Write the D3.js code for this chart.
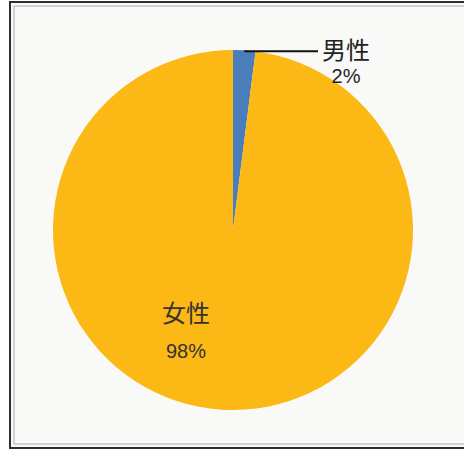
<!DOCTYPE html>
<html>
<head>
<meta charset="utf-8">
<script src="https://cdn.jsdelivr.net/npm/d3@7"></script>
<style>
  body { margin: 0; background: #ffffff; }
  svg { display: block; }
</style>
</head>
<body>
<div id="chart"></div>
<script>
let categories = ['男性', '女性']
let values = [2, 98]
let labels = ['2%', '98%']
let colors = ['#4a7ebb', '#fcb814']

let width = 464
let height = 452

let svg = d3
  .select('#chart')
  .append('svg')
  .attr('width', width)
  .attr('height', height)

// frame (double line)
svg
  .append('rect')
  .attr('x', 0)
  .attr('y', 0)
  .attr('width', width)
  .attr('height', height)
  .attr('fill', '#ffffff')

svg
  .append('rect')
  .attr('x', 10)
  .attr('y', 2)
  .attr('width', 470)
  .attr('height', 446)
  .attr('fill', '#f9f9f7')
  .attr('stroke', '#2b2f2f')
  .attr('stroke-width', 2)

svg
  .append('rect')
  .attr('x', 14)
  .attr('y', 6)
  .attr('width', 470)
  .attr('height', 438)
  .attr('fill', 'none')
  .attr('stroke', '#a9adab')
  .attr('stroke-width', 1)

let cx = 233
let cy = 230
let radius = 180

let pie = d3.pie().sort(null).value(d => d.value)
let arc = d3.arc().innerRadius(0).outerRadius(radius)

let data = categories.map((c, i) => ({ name: c, value: values[i], label: labels[i], color: colors[i] }))

let g = svg.append('g').attr('transform', `translate(${cx},${cy})`)

g.selectAll('.slice')
  .data(pie(data))
  .enter()
  .append('path')
  .attr('class', 'slice')
  .attr('d', arc)
  .attr('fill', d => d.data.color)

let arcs = pie(data)

// leader line for the small slice
let male = arcs[0]
let mid = (male.startAngle + male.endAngle) / 2
let lx = Math.sin(mid) * (radius - 1)
let ly = -Math.cos(mid) * (radius - 1)
g.append('line')
  .attr('x1', lx)
  .attr('y1', ly)
  .attr('x2', 85)
  .attr('y2', ly)
  .attr('stroke', '#111')
  .attr('stroke-width', 2)

let font = '"Noto Sans CJK JP", sans-serif'

g.append('text')
  .text(male.data.name)
  .attr('x', 113)
  .attr('y', ly + 8)
  .attr('text-anchor', 'middle')
  .attr('font-family', font)
  .attr('font-size', 24)
  .attr('fill', '#222')

g.append('text')
  .text(male.data.label)
  .attr('x', 113)
  .attr('y', ly + 32)
  .attr('text-anchor', 'middle')
  .attr('font-family', '"Liberation Sans Narrow", "Liberation Sans", sans-serif')
  .attr('font-size', 20)
  .attr('fill', '#222')

// label inside the big slice
let female = arcs[1]
g.append('text')
  .text(female.data.name)
  .attr('x', -47)
  .attr('y', 92)
  .attr('text-anchor', 'middle')
  .attr('font-family', font)
  .attr('font-size', 24)
  .attr('fill', '#333')

g.append('text')
  .text(female.data.label)
  .attr('x', -47)
  .attr('y', 128)
  .attr('text-anchor', 'middle')
  .attr('font-family', '"Liberation Sans Narrow", "Liberation Sans", sans-serif')
  .attr('font-size', 20)
  .attr('fill', '#333')
</script>
</body>
</html>
